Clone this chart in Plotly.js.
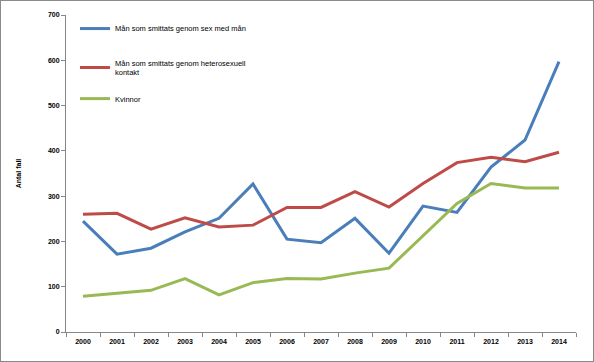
<!DOCTYPE html>
<html><head><meta charset="utf-8">
<script src="https://cdn.plot.ly/plotly-3.0.1.min.js"></script>
<style>
html,body{margin:0;padding:0;background:#fff;}
#frame{position:absolute;left:0;top:0;width:594px;height:362px;box-sizing:border-box;border:1px solid #8a8a8a;}
#chart{width:592px;height:360px;}
</style></head>
<body><div id="frame"><div id="chart"></div></div>
<script>
const years = ['2000','2001','2002','2003','2004','2005','2006','2007','2008','2009','2010','2011','2012','2013','2014'];
const msm = [245, 172, 185, 221, 251, 327, 205, 197, 251, 174, 278, 264, 364, 424, 597];
const hetero = [260, 262, 227, 252, 232, 236, 275, 275, 310, 276, 328, 374, 386, 376, 397];
const kvinnor = [79, 85, 92, 118, 82, 109, 118, 117, 130, 141, 213, 284, 328, 318, 318];
const names = ['Mån som smittats genom sex med mån', 'Mån som smittats genom heterosexuell<br>kontakt', 'Kvinnor'];
const colors = ['#4A7EBB', '#BE4B48', '#98B954'];
const series = [msm, hetero, kvinnor];
const legendIds = ['legend', 'legend2', 'legend3'];

const traces = series.map((s, i) => ({
  type: 'scatter', mode: 'lines', x: years, y: s, name: names[i],
  legend: legendIds[i],
  line: {color: colors[i], width: 3}
}));

const fnt = {family: 'Liberation Sans, Arial, sans-serif', size: 7, color: '#000', weight: 'bold'};
const lfnt = {family: 'Liberation Sans, Arial, sans-serif', size: 7.5, color: '#000'};
const legBase = {x: 0.0176, xanchor: 'left', yanchor: 'top', font: lfnt, itemwidth: 30, bgcolor: 'rgba(0,0,0,0)'};
const layout = {
  width: 592, height: 360,
  margin: {l: 65, r: 17, t: 14, b: 29},
  paper_bgcolor: '#fff', plot_bgcolor: '#fff',
  showlegend: true,
  legend: Object.assign({}, legBase, {y: 1.003}),
  legend2: Object.assign({}, legBase, {y: 0.8855}),
  legend3: Object.assign({}, legBase, {y: 0.782}),
  xaxis: {type: 'category', range: [-0.5, 14.5], tickson: 'boundaries', ticks: 'outside', ticklen: 4, tickcolor: '#868686',
          showline: true, linecolor: '#868686', linewidth: 1, showgrid: false, zeroline: false,
          tickfont: fnt, ticklabelstandoff: 3, fixedrange: true},
  yaxis: {range: [0, 700], dtick: 100, ticks: 'outside', ticklen: 4, tickcolor: '#868686',
          showline: true, linecolor: '#868686', linewidth: 1, showgrid: false, zeroline: false,
          tickfont: fnt, title: {text: 'Antal fall', font: fnt, standoff: 25}, automargin: false}
};
Plotly.newPlot('chart', traces, layout, {displayModeBar: false, staticPlot: true});
</script></body></html>
